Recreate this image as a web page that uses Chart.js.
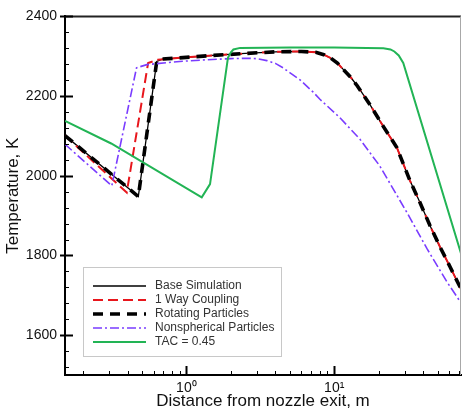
<!DOCTYPE html>
<html><head><meta charset="utf-8">
<script src="https://cdn.jsdelivr.net/npm/chart.js@4/dist/chart.umd.min.js"></script>
<style>html,body{margin:0;padding:0;background:#fff}#wrap{width:462px;height:414px;position:relative}</style>
</head><body><div id="wrap"><canvas id="c" width="462" height="414"></canvas></div>
<script>
// ---- data ----
const seriesNames = ["Base Simulation", "1 Way Coupling", "Rotating Particles", "Nonspherical Particles", "TAC = 0.45"];

const baseX = [0.151, 0.473, 0.63, 0.69, 0.9, 1.5, 2.5, 4.0, 6.0, 7.5, 8.5, 9.5, 10.5, 11.5, 13, 14.3, 17.4, 21.3, 26.5, 32.5, 38, 44.4, 52, 60.8, 72];
const baseY = [2101, 1948, 2287, 2293, 2296, 2302, 2307, 2311, 2312, 2310, 2304, 2295, 2283, 2267, 2246, 2226, 2179, 2126, 2071, 1988, 1933, 1875, 1821, 1771, 1716];

const oneWayX = [0.151, 0.395, 0.551, 0.64, 0.9, 1.5, 2.5, 4.0, 6.0, 7.5, 8.5, 9.5, 10.5, 11.5, 13, 14.3, 17.4, 21.3, 26.5, 32.5, 38, 44.4, 52, 60.8, 72];
const oneWayY = [2101, 1958, 2283, 2291, 2296, 2302, 2307, 2311, 2312, 2310, 2304, 2295, 2283, 2267, 2246, 2226, 2179, 2126, 2071, 1988, 1933, 1875, 1821, 1771, 1716];

const rotatingX = [0.151, 0.473, 0.63, 0.69, 0.9, 1.5, 2.5, 4.0, 6.0, 7.5, 8.5, 9.5, 10.5, 11.5, 13, 14.3, 17.4, 21.3, 26.5, 32.5, 38, 44.4, 52, 60.8, 72];
const rotatingY = [2101, 1948, 2287, 2293, 2296, 2302, 2307, 2311, 2312, 2310, 2304, 2295, 2283, 2267, 2246, 2226, 2179, 2126, 2071, 1988, 1933, 1875, 1821, 1771, 1716];

const nonsphX = [0.151, 0.313, 0.46, 0.54, 0.9, 1.5, 2.0, 2.56, 3.0, 3.5, 4.0, 4.5, 5.0, 5.9, 7.2, 8.0, 10.9, 14.9, 20.3, 31, 42.4, 58, 72];
const nonsphY = [2079, 1975, 2271, 2279, 2287, 2292, 2294, 2295, 2294, 2289, 2282, 2271, 2259, 2240, 2210, 2192, 2146, 2092, 2025, 1908, 1817, 1733, 1681];

const tacX = [0.151, 0.31, 1.27, 1.445, 1.91, 2.0, 2.08, 2.31, 5, 10, 16.6, 21.5, 24, 25.5, 27.3, 29.3, 72];
const tacY = [2138, 2081, 1946, 1979, 2296, 2310, 2317, 2321, 2322, 2322, 2321, 2320, 2317, 2312, 2302, 2283, 1805];

const yTickLabels = [1600, 1800, 2000, 2200, 2400];
const xTickLabels = {1: "10\u2070", 10: "10\u00B9"};

// ---- chart ----
const pts = (xs, ys) => xs.map((x, i) => ({x: x, y: ys[i]}));
const styles = [
  {borderColor: "#000000", borderWidth: 1.3, borderDash: [], order: 5},
  {borderColor: "#e8161c", borderWidth: 2, borderDash: [10, 5], order: 4},
  {borderColor: "#000000", borderWidth: 3.6, borderDash: [10, 7], order: 3},
  {borderColor: "#7a3cff", borderWidth: 1.6, borderDash: [9, 3, 2, 3], order: 2},
  {borderColor: "#22b455", borderWidth: 2, borderDash: [], order: 1}
];
const seriesData = [pts(baseX, baseY), pts(oneWayX, oneWayY), pts(rotatingX, rotatingY), pts(nonsphX, nonsphY), pts(tacX, tacY)];
const datasets = seriesNames.map((n, i) => Object.assign({
  label: n, data: seriesData[i], pointRadius: 0, tension: 0, fill: false
}, styles[i]));

const FONT = "'Liberation Sans', Arial, sans-serif";

const decor = {
  id: "decor",
  afterDraw(chart) {
    const ctx = chart.ctx, a = chart.chartArea;
    const xs = chart.scales.x, ys = chart.scales.y;
    ctx.save();
    // top and right frame
    ctx.strokeStyle = "#222"; ctx.lineWidth = 2;
    ctx.beginPath(); ctx.moveTo(a.left, a.top); ctx.lineTo(a.right, a.top); ctx.stroke();
    ctx.strokeStyle = "#a8a8a8"; ctx.lineWidth = 1;
    ctx.beginPath(); ctx.moveTo(a.right - 0.5, a.top); ctx.lineTo(a.right - 0.5, a.bottom); ctx.stroke();
    // x ticks (log)
    ctx.strokeStyle = "#000"; ctx.lineWidth = 1;
    for (let k = -1; k <= 1; k++) {
      for (let m = 1; m <= 9; m++) {
        const v = m * Math.pow(10, k);
        if (v < xs.min || v > xs.max) continue;
        const px = Math.round(xs.getPixelForValue(v)) + 0.5;
        const len = m === 1 ? 9 : 4;
        ctx.lineWidth = m === 1 ? 2 : 1;
        ctx.beginPath(); ctx.moveTo(px, a.bottom); ctx.lineTo(px, a.bottom - len); ctx.stroke();
      }
    }
    // y ticks
    for (let v = 1520; v <= 2400; v += 40) {
      const py = Math.round(ys.getPixelForValue(v)) + 0.5;
      const major = v % 200 === 0;
      ctx.lineWidth = major ? 2 : 1;
      ctx.beginPath();
      ctx.moveTo(major ? a.left - 5 : a.left, py);
      ctx.lineTo(a.left + (major ? 8 : 4), py);
      ctx.stroke();
    }
    // legend
    const bx = 83.5, by = 267.5, bw = 198, bh = 89;
    ctx.fillStyle = "#fff"; ctx.fillRect(bx, by, bw, bh);
    ctx.strokeStyle = "#c8c8c8"; ctx.lineWidth = 1; ctx.strokeRect(bx, by, bw, bh);
    ctx.font = "12px " + FONT; ctx.textBaseline = "middle"; ctx.textAlign = "left";
    chart.data.datasets.forEach((ds, i) => {
      const y = 286 + i * 14;
      ctx.strokeStyle = ds.borderColor; ctx.lineWidth = ds.borderWidth;
      ctx.setLineDash(ds.borderDash || []);
      ctx.beginPath(); ctx.moveTo(93, y); ctx.lineTo(146, y); ctx.stroke();
      ctx.setLineDash([]);
      ctx.fillStyle = "#333"; ctx.fillText(ds.label, 155, y);
    });
    ctx.restore();
  }
};

new Chart(document.getElementById("c"), {
  type: "line",
  data: {datasets: datasets},
  options: {
    responsive: false, animation: false, devicePixelRatio: 1,
    layout: {padding: {top: 13, right: 1, left: 0, bottom: 0}},
    plugins: {legend: {display: false}, tooltip: {enabled: false}},
    scales: {
      x: {
        type: "logarithmic", min: 0.151, max: 72,
        grid: {display: false, drawTicks: false},
        border: {display: true, color: "#000", width: 2},
        ticks: {
          autoSkip: false, maxRotation: 0, padding: 5, color: "#111",
          font: {family: FONT, size: 14},
          callback: (v) => xTickLabels[v] || ""
        },
        title: {display: true, text: "Distance from nozzle exit, m", color: "#111",
          font: {family: FONT, size: 17}, padding: {top: 0, bottom: 2}},
        afterFit: (s) => { s.height = 39; s.paddingLeft = 0; s.paddingRight = 0; }
      },
      y: {
        type: "linear", min: 1500, max: 2400,
        grid: {display: false, drawTicks: false},
        border: {display: true, color: "#000", width: 2},
        ticks: {
          stepSize: 200, padding: 8, color: "#111",
          font: {family: FONT, size: 14},
          callback: (v) => yTickLabels.includes(v) ? String(v) : ""
        },
        title: {display: true, text: "Temperature, K", color: "#111",
          font: {family: FONT, size: 17}, padding: {top: 3, bottom: 0}},
        afterFit: (s) => { s.width = 65; }
      }
    }
  },
  plugins: [decor]
});
</script>
</body></html>
